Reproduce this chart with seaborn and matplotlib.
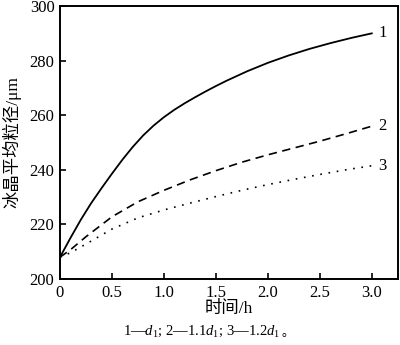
import matplotlib
matplotlib.use("Agg")
import matplotlib.pyplot as plt
import seaborn as sns
import pandas as pd

# data
t1 = [0.0, 0.1, 0.2, 0.3, 0.4, 0.5, 0.6, 0.7, 0.8, 0.9, 1.0, 1.1, 1.2, 1.3, 1.4,
      1.5, 1.6, 1.8, 2.0, 2.2, 2.4, 2.6, 2.8, 3.0]
curve1 = [208.0, 215.0, 221.7, 227.8, 233.3, 238.6, 243.7, 248.4, 252.6, 256.2, 259.3,
          262.0, 264.4, 266.6, 268.7, 270.7, 272.6, 276.1, 279.2, 281.9, 284.3, 286.4,
          288.3, 290.0]
t23 = [0.0, 0.1, 0.25, 0.5, 0.75, 1.0, 1.25, 1.5, 1.75, 2.0, 2.25, 2.5, 2.75, 3.0]
curve2 = [208.0, 210.7, 215.5, 222.8, 228.3, 232.5, 236.3, 239.7, 242.8, 245.5, 248.0,
          250.5, 253.2, 256.0]
curve3 = [208.0, 209.6, 212.8, 218.3, 222.4, 225.3, 227.8, 230.2, 232.5, 234.6, 236.5,
          238.3, 240.0, 241.5]
curve_labels = ["1", "2", "3"]
xticks = [0, 0.5, 1.0, 1.5, 2.0, 2.5, 3.0]
xticklabels = ["0", "0.5", "1.0", "1.5", "2.0", "2.5", "3.0"]
yticks = [200, 220, 240, 260, 280, 300]

sns.set_theme(style="ticks")
plt.rcParams['font.family'] = ['Liberation Serif', 'Noto Sans CJK SC']
plt.rcParams['mathtext.fontset'] = 'custom'
plt.rcParams['mathtext.rm'] = 'Liberation Serif'
plt.rcParams['mathtext.it'] = 'Liberation Serif:italic'

fig = plt.figure(figsize=(4.0, 3.45), dpi=100)
ax = fig.add_axes([0.15, 0.1913, 0.845, 0.7913])

df1 = pd.DataFrame({"t": t1, "v": curve1})
df23 = pd.DataFrame({"t": t23, "c2": curve2, "c3": curve3})
lw = 1.2
sns.lineplot(data=df1, x="t", y="v", ax=ax, color="black", lw=1.3)
l2 = sns.lineplot(data=df23, x="t", y="c2", ax=ax, color="black", lw=lw).lines[-1]
l2.set_dashes((5, 3.3))
l3 = sns.lineplot(data=df23, x="t", y="c3", ax=ax, color="black", lw=lw).lines[-1]
l3.set_dashes((1, 4))

for lab, ys in zip(curve_labels, [curve1, curve2, curve3]):
    ax.text(3.06, ys[-1], lab, fontsize=12, va="center", ha="left", color="black")

ax.set_xlim(0, 3.25)
ax.set_ylim(200, 300)
ax.set_xticks(xticks)
ax.set_xticklabels(xticklabels)
ax.set_yticks(yticks)
ax.tick_params(direction="in", length=4, width=1.2, labelsize=12, colors="black", pad=4)
for s in ax.spines.values():
    s.set_linewidth(1.4)
    s.set_color("black")
    s.set_visible(True)

ax.set_xlabel("时间/h", fontsize=12.5, labelpad=0.5, color="black")
ax.set_ylabel("冰晶平均粒径/μm", fontsize=12.5, labelpad=6, color="black")

cap = fig.text(0.505, 0.018, "1—$d_1$; 2—1.1$d_1$; 3—1.2$d_1$", fontsize=10.5,
               ha="center", va="bottom", color="black")
ax.annotate("。", xy=(1, 0), xycoords=cap, xytext=(1, 0), textcoords="offset points",
            ha="left", va="bottom", fontsize=9, color="black",
            family=['Noto Sans CJK SC'])

fig.savefig("out.png", dpi=100)
